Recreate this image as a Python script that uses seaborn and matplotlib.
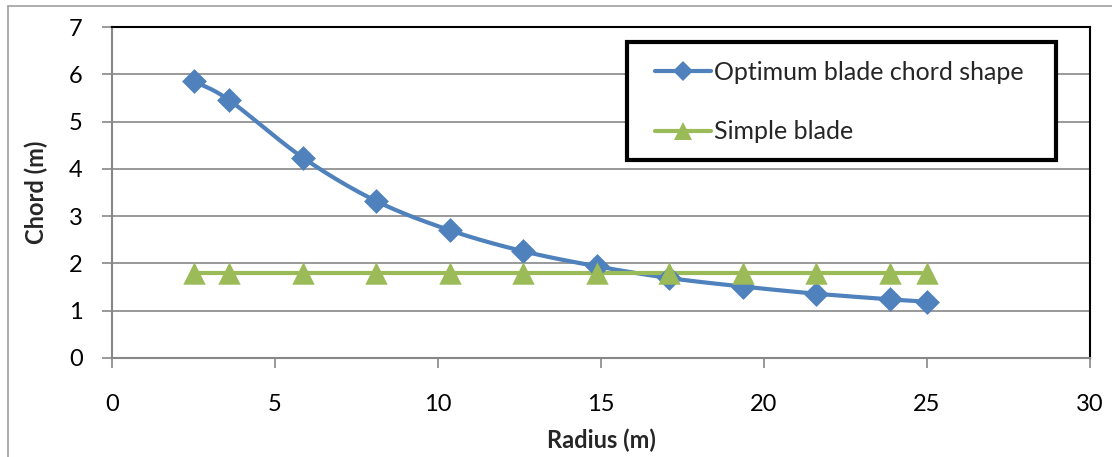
import numpy as np
import pandas as pd
import matplotlib
matplotlib.use("Agg")
import matplotlib.pyplot as plt
from matplotlib.lines import Line2D
from matplotlib.patches import Rectangle
import seaborn as sns

# ---- data ----
radius = [2.5, 3.6, 5.87, 8.1, 10.37, 12.6, 14.87, 17.1, 19.37, 21.6, 23.87, 25.0]
chord_optimum = [5.86, 5.45, 4.23, 3.32, 2.70, 2.26, 1.94, 1.69, 1.51, 1.36, 1.24, 1.19]
chord_simple = [1.8] * 12
series_names = ["Optimum blade chord shape", "Simple blade"]
x_ticks = [0, 5, 10, 15, 20, 25, 30]
y_ticks = [0, 1, 2, 3, 4, 5, 6, 7]

BLUE = "#4F81BD"
GREEN = "#9BBB59"
GRID = "#878787"
W, H = 1112, 457


def catmull_rom(x, y, n=20):
    x = np.asarray(x, float); y = np.asarray(y, float)
    px = np.concatenate([[2 * x[0] - x[1]], x, [2 * x[-1] - x[-2]]])
    py = np.concatenate([[2 * y[0] - y[1]], y, [2 * y[-1] - y[-2]]])
    xs, ys = [], []
    for i in range(1, len(px) - 2):
        t = np.linspace(0, 1, n, endpoint=False)
        for P, out in ((px, xs), (py, ys)):
            p0, p1, p2, p3 = P[i - 1], P[i], P[i + 1], P[i + 2]
            out.extend(0.5 * ((2 * p1) + (-p0 + p2) * t
                              + (2 * p0 - 5 * p1 + 4 * p2 - p3) * t ** 2
                              + (-p0 + 3 * p1 - 3 * p2 + p3) * t ** 3))
    xs.append(x[-1]); ys.append(y[-1])
    return np.array(xs), np.array(ys)


sns.set_theme(style="white")
plt.rcParams["font.family"] = ["Lato", "DejaVu Sans"]

fig = plt.figure(figsize=(W / 100, H / 100), dpi=100)
ax = fig.add_axes([112 / W, 1 - 358 / H, (1090 - 112) / W, (358 - 27) / H])

sx, sy = catmull_rom(radius, chord_optimum)
smooth = pd.DataFrame({"x": sx, "y": sy})
sns.lineplot(data=smooth, x="x", y="y", sort=False, color=BLUE, linewidth=3, ax=ax, zorder=3)
pts = pd.DataFrame({"x": radius, "y": chord_optimum})
sns.scatterplot(data=pts, x="x", y="y", marker="D", s=160, color=BLUE, edgecolor=BLUE,
                linewidth=0, ax=ax, zorder=4)

simple = pd.DataFrame({"x": radius, "y": chord_simple})
sns.lineplot(data=simple, x="x", y="y", color=GREEN, linewidth=3, ax=ax, zorder=3)
sns.scatterplot(data=simple, x="x", y="y", marker="^", s=260, color=GREEN, edgecolor=GREEN,
                linewidth=0, ax=ax, zorder=4)

ax.set_xlim(0, 30)
ax.set_ylim(0, 7)
ax.set_xticks(x_ticks)
ax.set_yticks(y_ticks)
ax.yaxis.grid(True, color=GRID, linewidth=1.2)
ax.xaxis.grid(False)
ax.set_axisbelow(True)
ax.tick_params(axis="both", which="both", direction="out", length=7, width=1.2,
               color=GRID, labelsize=17, labelcolor="black",
               bottom=True, left=True)
ax.tick_params(axis="x", pad=19)
ax.tick_params(axis="y", pad=14)
for side in ("left", "bottom"):
    ax.spines[side].set_color(GRID)
    ax.spines[side].set_linewidth(1.5)
for side in ("top", "right"):
    ax.spines[side].set_color("black")
    ax.spines[side].set_linewidth(1.5)

ax.set_xlabel("Radius (m)", fontsize=17, fontweight="bold", labelpad=10)
ax.set_ylabel("Chord (m)", fontsize=17, fontweight="bold", labelpad=15)

# legend frame drawn separately for exact placement
frame = Rectangle((627 / W, 1 - 160 / H), (1056 - 627) / W, (160 - 42) / H,
                  transform=fig.transFigure, facecolor="white", edgecolor="black",
                  linewidth=3, zorder=5)
fig.add_artist(frame)

handles = [
    Line2D([0], [0], color=BLUE, lw=3, marker="D", markersize=10, markeredgewidth=0),
    Line2D([0], [0], color=GREEN, lw=3, marker="^", markersize=13, markeredgewidth=0),
]
leg = fig.legend(handles, series_names, loc="upper left",
                 bbox_to_anchor=(655 / W, 1 - 61 / H), bbox_transform=fig.transFigure,
                 fontsize=18, frameon=False, handlelength=2.25,
                 handletextpad=0.1, labelspacing=1.45, borderpad=0, borderaxespad=0)
leg.set_zorder(6)

# outer chart frame
fig.add_artist(Line2D([8 / W, 8 / W], [0, 1 - 6 / H], transform=fig.transFigure,
                      color="#A0A0A0", lw=1.2))
fig.add_artist(Line2D([8 / W, 1], [1 - 6 / H, 1 - 6 / H], transform=fig.transFigure,
                      color="#A0A0A0", lw=1.2))

fig.savefig("out.png", dpi=100)
